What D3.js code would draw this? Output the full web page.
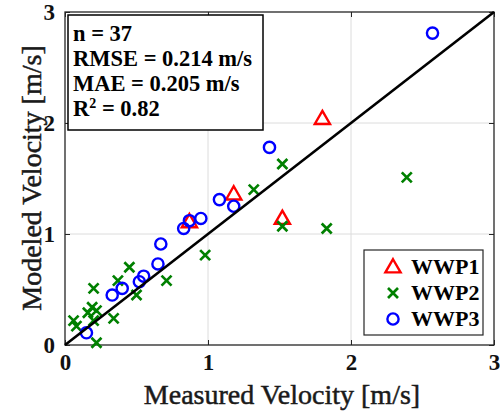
<!DOCTYPE html>
<html>
<head>
<meta charset="utf-8">
<script src="https://cdn.jsdelivr.net/npm/d3@7"></script>
<style>
  html, body { margin: 0; padding: 0; background: #fff; }
  svg { display: block; font-family: "Liberation Serif", "Times New Roman", serif; }
</style>
</head>
<body>
<svg id="chart" width="500" height="414"></svg>
<script>
// Measured vs. modeled velocity [m/s] for three sites
const wwp1Measured = [1.80, 1.18, 1.52, 0.87];
const wwp1Modeled  = [2.04, 1.36, 1.14, 1.11];

const wwp2Measured = [2.39, 1.83, 1.52, 1.52, 1.32, 0.98, 0.71, 0.45, 0.37, 0.50,
                      0.20, 0.19, 0.22, 0.16, 0.20, 0.34, 0.06, 0.08, 0.22];
const wwp2Modeled  = [1.51, 1.05, 1.07, 1.63, 1.40, 0.81, 0.58, 0.70, 0.58, 0.45,
                      0.51, 0.34, 0.31, 0.29, 0.22, 0.24, 0.22, 0.17, 0.02];

const wwp3Measured = [2.57, 1.43, 1.08, 1.18, 0.95, 0.87, 0.83, 0.67, 0.65, 0.55,
                      0.52, 0.40, 0.33, 0.15];
const wwp3Modeled  = [2.81, 1.78, 1.31, 1.25, 1.14, 1.12, 1.05, 0.91, 0.73, 0.62,
                      0.57, 0.51, 0.45, 0.11];

const tickValues = [0, 1, 2, 3];
const statsLines = ["n = 37", "RMSE = 0.214 m/s", "MAE = 0.205 m/s", "R2 = 0.82"];
const seriesNames = ["WWP1", "WWP2", "WWP3"];

const svg = d3.select("#chart");
const plotLeft = 65, plotRight = 494, plotTop = 12, plotBottom = 345;

const x = d3.scaleLinear().domain([0, 3]).range([plotLeft, plotRight]);
const y = d3.scaleLinear().domain([0, 3]).range([plotBottom, plotTop]);

// grid
const grid = svg.append("g");
grid.selectAll("line.gx").data([1, 2]).join("line")
  .attr("x1", d => x(d)).attr("x2", d => x(d))
  .attr("y1", plotTop).attr("y2", plotBottom)
  .attr("stroke", "#dcdcdc").attr("stroke-width", 1);
grid.selectAll("line.gy").data([1, 2]).join("line")
  .attr("y1", d => y(d)).attr("y2", d => y(d))
  .attr("x1", plotLeft).attr("x2", plotRight)
  .attr("stroke", "#dcdcdc").attr("stroke-width", 1);

// axes with inward ticks on all four sides
const axisColor = "#262626";
function styleAxis(g) {
  g.select(".domain").remove();
  g.selectAll(".tick line").attr("stroke", axisColor).attr("stroke-width", 1);
  g.selectAll(".tick text")
    .attr("fill", "#111")
    .attr("font-size", "23px")
    .attr("font-weight", "bold")
    .attr("font-family", "'Liberation Serif', 'Times New Roman', serif");
}
svg.append("g").attr("transform", `translate(0,${plotBottom})`)
  .call(d3.axisBottom(x).tickValues(tickValues).tickFormat(d3.format("d"))
    .tickSizeInner(-5).tickSizeOuter(0).tickPadding(9))
  .call(styleAxis);
svg.append("g").attr("transform", `translate(${plotLeft},0)`)
  .call(d3.axisLeft(y).tickValues(tickValues).tickFormat(d3.format("d"))
    .tickSizeInner(-5).tickSizeOuter(0).tickPadding(10))
  .call(styleAxis);
svg.append("g").attr("transform", `translate(0,${plotTop})`)
  .call(d3.axisTop(x).tickValues(tickValues).tickFormat("")
    .tickSizeInner(-5).tickSizeOuter(0))
  .call(styleAxis);
svg.append("g").attr("transform", `translate(${plotRight},0)`)
  .call(d3.axisRight(y).tickValues(tickValues).tickFormat("")
    .tickSizeInner(-5).tickSizeOuter(0))
  .call(styleAxis);

svg.append("rect")
  .attr("x", plotLeft).attr("y", plotTop)
  .attr("width", plotRight - plotLeft).attr("height", plotBottom - plotTop)
  .attr("fill", "none").attr("stroke", axisColor).attr("stroke-width", 1.3);

// marker shapes
const triPath = d3.symbol().type(d3.symbolTriangle).size(100)();
const crossPath = "M-5,-5L5,5M-5,5L5,-5";

function drawTri(g, px, py) {
  g.append("path").attr("d", triPath)
    .attr("transform", `translate(${px},${py + 1})`)
    .attr("fill", "none").attr("stroke", "#ff0000").attr("stroke-width", 2.4);
}
function drawCross(g, px, py) {
  g.append("path").attr("d", crossPath)
    .attr("transform", `translate(${px},${py})`)
    .attr("fill", "none").attr("stroke", "#008000").attr("stroke-width", 2.7);
}
function drawCircle(g, px, py) {
  g.append("circle").attr("cx", px).attr("cy", py).attr("r", 5.6)
    .attr("fill", "none").attr("stroke", "#0000ff").attr("stroke-width", 2.4);
}

const marks = svg.append("g");
wwp1Measured.forEach((m, i) => drawTri(marks, x(m), y(wwp1Modeled[i])));
wwp2Measured.forEach((m, i) => drawCross(marks, x(m), y(wwp2Modeled[i])));
wwp3Measured.forEach((m, i) => drawCircle(marks, x(m), y(wwp3Modeled[i])));

// 1:1 line
svg.append("line")
  .attr("x1", x(0)).attr("y1", y(0)).attr("x2", x(3)).attr("y2", y(3))
  .attr("stroke", "#000").attr("stroke-width", 2.6);

// statistics box
const box = svg.append("g");
box.append("rect").attr("x", 68).attr("y", 15).attr("width", 195).attr("height", 115)
  .attr("fill", "#fff").attr("stroke", "#000").attr("stroke-width", 1.5);
statsLines.forEach((s, i) => {
  const t = box.append("text")
    .attr("x", 73).attr("y", 41 + i * 25)
    .attr("font-size", "22.5px").attr("font-weight", "bold").attr("fill", "#000");
  if (s.startsWith("R2")) {
    t.append("tspan").text("R");
    t.append("tspan").attr("dy", -8).attr("font-size", "14px").text("2");
    t.append("tspan").attr("dy", 8).text(" = 0.82");
  } else {
    t.text(s);
  }
});

// legend
const leg = svg.append("g");
leg.append("rect").attr("x", 364).attr("y", 250).attr("width", 119).attr("height", 85)
  .attr("fill", "#fff").attr("stroke", "#262626").attr("stroke-width", 1.2);
const legY = [267, 293, 319];
drawTri(leg, 393, legY[0]);
drawCross(leg, 393, legY[1]);
drawCircle(leg, 393, legY[2]);
seriesNames.forEach((n, i) => {
  leg.append("text").attr("x", 411).attr("y", legY[i] + 7)
    .attr("font-size", "22px").attr("font-weight", "bold").attr("fill", "#000")
    .text(n);
});

// axis titles
svg.append("text")
  .attr("x", 282).attr("y", 404)
  .attr("text-anchor", "middle").attr("font-size", "28px").attr("fill", "#1a1a1a")
  .attr("stroke", "#1a1a1a").attr("stroke-width", 0.5)
  .text("Measured Velocity [m/s]");
svg.append("text")
  .attr("transform", "translate(41,178) rotate(-90)")
  .attr("text-anchor", "middle").attr("font-size", "28px").attr("fill", "#1a1a1a")
  .attr("stroke", "#1a1a1a").attr("stroke-width", 0.5)
  .text("Modeled Velocity [m/s]");
</script>
</body>
</html>
